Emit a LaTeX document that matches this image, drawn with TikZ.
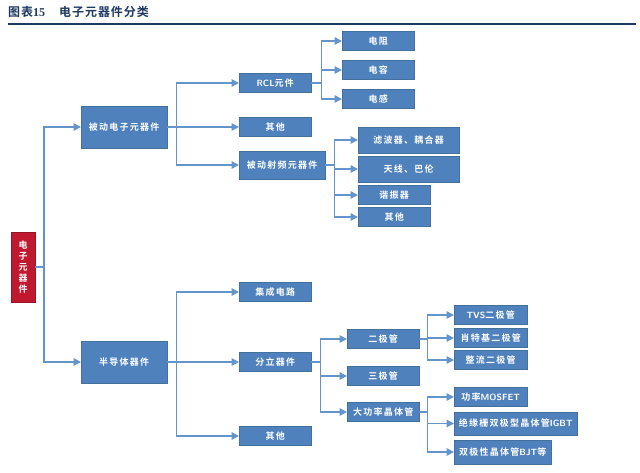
\documentclass[tikz,border=0pt]{standalone}
\usepackage{fontspec}
\setmainfont{Liberation Serif}
\newfontfamily\cjk{Noto Sans CJK SC}[BoldFont={Noto Sans CJK SC Bold}, LetterSpace=14]
\newfontfamily\cjktitle{Noto Sans CJK SC}[BoldFont={Noto Sans CJK SC Bold}, LetterSpace=8]
\usepackage{tikz}
\usetikzlibrary{positioning, arrows.meta, calc}
\definecolor{boxblue}{HTML}{4F81BD}
\definecolor{boxedge}{HTML}{41719C}
\definecolor{lineblue}{HTML}{6494CC}
\definecolor{rootred}{HTML}{C0182E}
\definecolor{titleblue}{HTML}{1F3A60}
\tikzset{
  leaf/.style={rectangle, draw=boxedge, fill=boxblue, text=white, font=\cjk\bfseries\fontsize{9}{10}\selectfont, inner sep=0pt, minimum height=19pt, anchor=west},
  big/.style={leaf, minimum width=86pt, minimum height=42pt},
  root/.style={rectangle, draw=rootred!80!black, fill=rootred, text=white, font=\cjk\bfseries\fontsize{9}{11}\selectfont, inner sep=0pt, minimum width=24pt, minimum height=70pt, align=center},
  arrow/.style={draw=lineblue, line width=1.5pt, -{Triangle[length=7.5pt,width=7.5pt]}}
}
\begin{document}
\begin{tikzpicture}[x=1pt, y=-1pt]
  \useasboundingbox (0,0) rectangle (640,473);
  % titulo
  \node (title) [anchor=west, text=titleblue, font=\cjktitle\bfseries\fontsize{12}{14}\selectfont, inner sep=0pt] at (8,12) {图表{\fontspec{Liberation Serif}\bfseries 15}\hspace{14pt}电子元器件分类};
  \coordinate (tl) at (8,24);
  \coordinate (tr) at (636,24);
  \draw [titleblue, line width=1.2pt] (tl) -- (tr);

  % 1. raiz
  \node (root) [root] at (23,267) {电\\子\\元\\器\\件};
  \node (pasivo) [big] at (81,127) {被动电子元器件};
  \node (semi) [big] at (81,362) {半导体器件};

  % 2. ramas del pasivo
  \node (rcl) [leaf, minimum width=72pt] at (239,83) {{\sffamily\addfontfeature{LetterSpace=0}RCL}元件};
  \node (otro1) [leaf, minimum width=72pt] at (239,127) {其他};
  \node (rf) [leaf, minimum width=86pt, minimum height=28pt] at (239,165) {被动射频元器件};
  \node (res) [leaf, minimum width=72pt] at (342,41) {电阻};
  \node (cap) [leaf, minimum width=72pt] at (342,70) {电容};
  \node (ind) [leaf, minimum width=72pt] at (342,99) {电感};
  \node (filt) [leaf, minimum width=101pt, minimum height=26pt] at (358,140) {滤波器、耦合器};
  \node (ant) [leaf, minimum width=101pt, minimum height=26pt] at (358,169) {天线、巴伦};
  \node (reso) [leaf, minimum width=72pt] at (358,195) {谐振器};
  \node (otro2) [leaf, minimum width=72pt] at (358,217) {其他};

  % 3. ramas del semiconductor
  \node (ic) [leaf, minimum width=72pt] at (239,292) {集成电路};
  \node (disc) [leaf, minimum width=72pt] at (239,362) {分立器件};
  \node (otro3) [leaf, minimum width=72pt] at (239,436) {其他};
  \node (diode) [leaf, minimum width=72pt] at (347,339) {二极管};
  \node (trio) [leaf, minimum width=72pt] at (347,376) {三极管};
  \node (power) [leaf, minimum width=72pt] at (347,412) {大功率晶体管};
  \node (tvs) [leaf, minimum width=73pt] at (454,315) {{\sffamily TVS}二极管};
  \node (schot) [leaf, minimum width=73pt] at (454,338) {肖特基二极管};
  \node (rect) [leaf, minimum width=73pt] at (454,360) {整流二极管};
  \node (mos) [leaf, minimum width=73pt] at (454,397) {功率{\sffamily MOSFET}};
  \node (igbt) [leaf, minimum width=123pt, minimum height=23pt] at (454,423.5) {绝缘栅双极型晶体管{\sffamily IGBT}};
  \node (bjt) [leaf, minimum width=97pt, minimum height=24pt] at (454,452) {双极性晶体管{\sffamily BJT}等};

  % conectores
  \draw [arrow] (root.east) -- ++(9,0) |- (pasivo.west);
  \draw [arrow] (root.east) -- ++(9,0) |- (semi.west);

  \draw [arrow] (pasivo.east) -- ++(9,0) |- (rcl.west);
  \draw [arrow] (pasivo.east) -- (otro1.west);
  \draw [arrow] (pasivo.east) -- ++(9,0) |- (rf.west);

  \draw [arrow] (rcl.east) -- ++(10,0) |- (res.west);
  \draw [arrow] (rcl.east) -- ++(10,0) |- (cap.west);
  \draw [arrow] (rcl.east) -- ++(10,0) |- (ind.west);

  \draw [arrow] (rf.east) -- ++(9,0) |- (filt.west);
  \draw [arrow] (rf.east) -- ++(9,0) |- (ant.west);
  \draw [arrow] (rf.east) -- ++(9,0) |- (reso.west);
  \draw [arrow] (rf.east) -- ++(9,0) |- (otro2.west);

  \draw [arrow] (semi.east) -- ++(9,0) |- (ic.west);
  \draw [arrow] (semi.east) -- (disc.west);
  \draw [arrow] (semi.east) -- ++(9,0) |- (otro3.west);

  \draw [arrow] (disc.east) -- ++(9,0) |- (diode.west);
  \draw [arrow] (disc.east) -- ++(9,0) |- (trio.west);
  \draw [arrow] (disc.east) -- ++(9,0) |- (power.west);

  \draw [arrow] (diode.east) -- ++(8,0) |- (tvs.west);
  \draw [arrow] (diode.east) -- ++(8,0) |- (schot.west);
  \draw [arrow] (diode.east) -- ++(8,0) |- (rect.west);

  \draw [arrow] (power.east) -- ++(8,0) |- (mos.west);
  \draw [arrow] (power.east) -- ++(8,0) |- (igbt.west);
  \draw [arrow] (power.east) -- ++(8,0) |- (bjt.west);
\end{tikzpicture}
\end{document}
